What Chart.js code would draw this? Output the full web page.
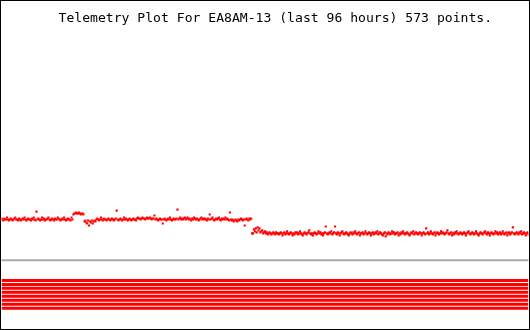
<!DOCTYPE html>
<html>
<head>
<meta charset="utf-8">
<title>Telemetry Plot For EA8AM-13</title>
<script src="https://cdn.jsdelivr.net/npm/chart.js@4.4.1/dist/chart.umd.min.js"></script>
<style>
  html, body { margin: 0; padding: 0; background: #fff; }
  canvas { display: block; }
</style>
</head>
<body>
<canvas id="canvas1" width="530" height="330"></canvas>
<script>
var titleText = "Telemetry Plot For EA8AM-13 (last 96 hours) 573 points.";

// analog channel, one value per sample (573 samples over 96 hours)
var telemetry = [
    111,110,109,111,110,110,112,110,109,110,111,110,109,110,111,112,110,110,109,111,
    110,109,110,111,110,112,110,109,110,111,110,110,109,111,110,112,110,109,118,110,
    111,110,109,110,112,110,111,109,110,110,111,112,110,109,110,111,110,109,111,110,
    110,112,111,110,109,110,111,110,112,110,109,110,111,110,110,109,112,110,115,116,
    116,117,116,116,117,116,115,116,116,115,108,109,107,106,109,104,108,107,109,106,
    108,109,108,110,111,110,109,110,112,110,109,111,110,110,109,110,111,110,109,110,
    111,110,109,110,111,119,110,109,110,111,110,109,110,112,110,111,110,109,110,111,
    110,109,110,111,110,110,109,111,112,111,111,110,111,112,111,111,110,111,112,111,
    111,112,111,110,111,111,114,110,111,110,109,110,111,110,110,106,110,111,110,109,
    110,111,110,112,110,109,110,111,110,110,111,120,110,111,112,110,111,110,111,112,
    110,111,112,110,111,110,109,111,110,112,111,110,111,110,109,110,111,112,110,111,
    110,111,110,109,111,110,115,110,111,112,110,109,110,111,110,111,112,110,109,111,
    110,111,110,112,110,111,110,109,117,110,109,110,108,109,110,109,108,110,109,110,
    111,110,109,110,104,110,111,110,109,111,110,111,96,96,100,98,101,97,102,99,
    101,97,98,99,96,97,98,96,97,95,96,97,96,95,96,97,96,95,97,96,
    96,95,96,97,96,94,96,97,95,96,98,96,95,96,97,96,94,96,95,97,
    96,97,95,96,98,96,95,94,96,97,96,95,96,97,99,96,95,96,94,96,
    97,96,95,96,98,96,97,95,96,94,96,97,103,96,95,96,97,96,98,95,
    96,97,103,96,95,97,96,94,96,97,98,96,95,96,97,96,95,94,96,97,
    96,95,97,96,98,96,95,96,97,94,96,96,97,95,96,98,96,95,96,97,
    96,94,96,97,95,96,97,96,98,95,96,97,96,95,94,96,97,93,96,95,
    97,96,95,96,98,96,97,95,96,96,97,94,96,95,97,96,98,96,95,96,
    97,96,95,94,96,97,96,98,95,96,97,96,95,96,97,96,94,96,97,96,
    95,101,96,97,95,96,98,96,95,96,97,94,96,97,96,95,96,98,96,97,
    96,95,96,97,99,96,95,96,97,94,96,95,97,96,98,96,95,96,97,96,
    95,96,97,96,94,96,97,98,96,95,96,97,96,95,96,98,96,95,94,96,
    97,96,95,96,97,98,96,95,97,96,94,96,97,96,95,96,98,96,97,95,
    96,97,95,96,98,96,95,96,97,94,96,97,95,96,97,102,96,95,96,97,
    96,95,97,96,98,95,96,97,96,94,96,97,95
];

// status bits 1..8, all set for the whole window
var bitChannels = [1, 1, 1, 1, 1, 1, 1, 1];

var lastIndex = telemetry.length - 1;

var points = telemetry.map(function (v, i) {
    return { x: i, y: v };
});

var datasets = [{
    label: "telemetry",
    data: points,
    yAxisID: "y",
    showLine: false,
    pointStyle: "rect",
    pointRadius: 1.5,
    pointHoverRadius: 1.5,
    pointBorderWidth: 0,
    pointBackgroundColor: "#ff0000",
    borderColor: "#ff0000"
}];

bitChannels.forEach(function (bit, k) {
    datasets.push({
        label: "bit " + (k + 1),
        data: [{ x: 0, y: k + bit }, { x: lastIndex, y: k + bit }],
        yAxisID: "yb",
        showLine: true,
        borderColor: "#ff0000",
        borderWidth: 3,
        pointRadius: 0
    });
});

var frame = {
    id: "frame",
    beforeDatasetsDraw: function (chart) {
        var ctx = chart.ctx;
        var area = chart.chartArea;
        var y = chart.scales.yb.getPixelForValue(-4.125);
        ctx.save();
        ctx.strokeStyle = "#aaaaaa";
        ctx.lineWidth = 2;
        ctx.beginPath();
        ctx.moveTo(area.left, y);
        ctx.lineTo(area.right, y);
        ctx.stroke();
        ctx.restore();
    },
    afterDraw: function (chart) {
        var ctx = chart.ctx;
        ctx.save();
        ctx.fillStyle = "#000";
        ctx.font = "13.1px 'DejaVu Sans Mono', monospace";
        ctx.textBaseline = "alphabetic";
        ctx.fillText(titleText, 58.5, 22);
        ctx.strokeStyle = "#000";
        ctx.lineWidth = 1;
        ctx.strokeRect(0.5, 0.5, chart.width - 1, chart.height - 1);
        ctx.restore();
    }
};

new Chart(document.getElementById("canvas1"), {
    type: "scatter",
    data: { datasets: datasets },
    options: {
        responsive: false,
        animation: false,
        events: [],
        layout: { padding: { left: 1, right: 1, top: 0, bottom: 0 } },
        plugins: {
            legend: { display: false },
            title: { display: false },
            tooltip: { enabled: false }
        },
        scales: {
            x: { type: "linear", display: false, min: 0, max: lastIndex },
            y: { type: "linear", display: false, min: 0, max: 330 },
            yb: { type: "linear", display: false, reverse: true, min: -69.375, max: 13.125 }
        }
    },
    plugins: [frame]
});
</script>
</body>
</html>
